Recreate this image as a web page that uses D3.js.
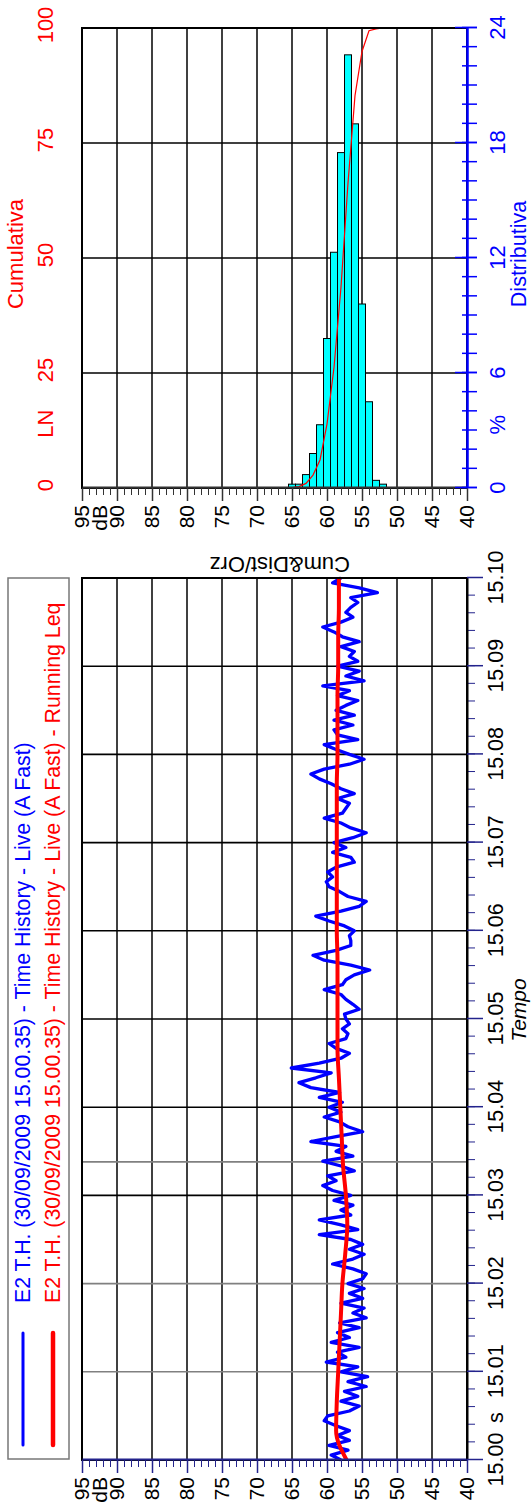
<!DOCTYPE html>
<html>
<head>
<meta charset="utf-8">
<title>E2 T.H. Time History</title>
<script src="https://cdn.jsdelivr.net/npm/d3@7"></script>
<style>
  body { margin: 0; background: #fff; }
  svg { display: block; }
</style>
</head>
<body>
<svg id="chart" width="532" height="1506"></svg>
<script>
// ---- data ----
const dbTicks = [95, 90, 85, 80, 75, 70, 65, 60, 55, 50, 45, 40];
const timeTicks = [15.00, 15.01, 15.02, 15.03, 15.04, 15.05, 15.06, 15.07, 15.08, 15.09, 15.10];
const markerTimes = [15.0338];

// Time History - Live (A Fast), dB, evenly sampled from 15.00 to 15.10
const blueLevels = [
  58.0, 59.4, 57.0, 59.7, 56.8, 58.5, 56.8, 58.7, 60.4, 59.9,
  56.8, 55.4, 58.0, 55.6, 57.5, 54.4, 57.0, 54.2, 58.0, 55.6,
  60.1, 57.3, 58.5, 55.4, 59.4, 56.8, 58.5, 55.4, 58.2, 54.4,
  56.3, 54.7, 58.0, 54.9, 56.8, 54.7, 57.0, 54.9, 54.4, 56.3,
  59.2, 56.3, 54.7, 56.8, 54.9, 56.6, 61.1, 55.6, 58.0, 61.1,
  56.6, 58.0, 56.3, 59.0, 56.6, 59.2, 60.6, 58.7, 59.9, 56.1, 58.0,
  60.6, 56.3, 58.7, 57.3, 62.3, 58.7, 54.9, 57.0, 58.2, 60.4,
  58.0, 59.7, 57.8, 61.1, 58.2, 62.3, 64.0, 61.6, 59.4, 65.1,
  61.1, 58.0, 56.8, 58.7, 59.7, 57.3, 57.0, 57.8, 56.8, 57.3,
  57.5, 55.4, 56.3, 57.3, 58.0, 60.4, 57.8, 57.3, 56.1, 53.9,
  56.6, 60.4, 62.0, 58.7, 56.6, 56.6, 56.8, 56.1, 57.5, 59.7,
  61.6, 58.0, 55.4, 54.4, 57.0, 58.2, 59.7, 60.1, 59.2, 59.9, 58.7, 56.1,
  56.6, 59.2, 57.3, 59.0, 56.3, 54.4, 56.6, 58.0, 60.4, 57.8,
  57.3, 56.8, 58.5, 56.1, 58.0, 59.4, 61.1, 62.3, 60.4, 56.8,
  54.7, 56.8, 58.7, 60.4, 55.6, 58.5, 59.0, 56.3, 59.0, 56.1,
  58.7, 57.3, 55.6, 58.5, 56.8, 60.6, 54.7, 57.3, 55.4, 58.5,
  55.6, 56.8, 56.1, 58.0, 55.4, 57.8, 59.0, 60.6, 58.0, 56.3,
  57.3, 56.6, 55.6, 56.6, 52.8, 55.4, 59.2, 58.0
];

// Running Leq, dB, every 20 s
const runningLeq = [
  57.2, 58.7, 58.6, 58.4, 58.2, 58.0, 57.8, 57.4, 57.1, 57.3,
  57.7, 57.9, 58.1, 58.3, 58.5, 58.5, 58.5, 58.5, 58.6, 58.6,
  58.6, 58.6, 58.6, 58.6, 58.5, 58.5, 58.5, 58.4, 58.4, 58.3, 58.3
];

// distribution (%) and cumulative LN (%) per 1 dB class
const histLevels = [65, 64, 63, 62, 61, 60, 59, 58, 57, 56, 55, 54, 53, 52];
const histPercent = [0.2, 0.2, 0.7, 1.8, 3.3, 7.8, 12.3, 17.5, 22.6, 19.0, 9.6, 4.5, 0.4, 0.2];
const cumPercent = [0.1, 0.3, 1.0, 2.8, 6.1, 13.9, 26.2, 43.7, 66.3, 85.3, 94.9, 99.4, 99.8, 100];

const distTicks = [0, 6, 12, 18, 24];
const cumTicks = [0, 25, 50, 75, 100];

const legendLabels = [
  'E2 T.H. (30/09/2009 15.00.35) - Time History - Live (A Fast)',
  'E2 T.H. (30/09/2009 15.00.35) - Time History - Live (A Fast) - Running Leq'
];
const legendColors = ['#0000ff', '#ff0000'];

// ---- layout (chart is drawn landscape, then turned a quarter) ----
const FONT = 'Arial, "Liberation Sans", Helvetica, sans-serif';
const W = 1506;
const navy = '#23238c';
const plotTop = 82, plotBottom = 467;
const th = { left: 46, right: 928 };
const hist = { left: 1018, right: 1478 };

const svg = d3.select('#chart');
const g = svg.append('g')
  .attr('transform', `translate(0,${W}) rotate(-90)`)
  .attr('font-family', FONT);

const y = d3.scaleLinear().domain([95, 40]).range([plotTop, plotBottom]);
const xTime = d3.scaleLinear().domain([15.00, 15.10]).range([th.left, th.right]);
const xDist = d3.scaleLinear().domain([0, 24]).range([hist.left, hist.right]);
const xCum = d3.scaleLinear().domain([0, 100]).range([hist.left, hist.right]);

// ================= time history =================
const lower = g.append('g');

// legend
lower.append('rect')
  .attr('x', th.left + 1).attr('y', 8)
  .attr('width', th.right - th.left - 1).attr('height', 61)
  .attr('fill', 'none').attr('stroke', '#777').attr('stroke-width', 1.5);
legendLabels.forEach((label, i) => {
  const ly = 23 + i * 30;
  lower.append('line')
    .attr('x1', 61).attr('x2', 173).attr('y1', ly).attr('y2', ly)
    .attr('stroke', legendColors[i]).attr('stroke-width', i ? 4.5 : 3)
    .attr('stroke-linecap', 'round');
  lower.append('text')
    .attr('x', 203).attr('y', ly)
    .attr('dominant-baseline', 'central')
    .attr('font-size', 21.3)
    .attr('fill', legendColors[i])
    .text(label);
});

// grid
lower.selectAll('line.hgrid')
  .data(dbTicks.slice(1, -1))
  .join('line').attr('class', 'hgrid')
  .attr('x1', th.left).attr('x2', th.right)
  .attr('y1', d => y(d)).attr('y2', d => y(d))
  .attr('stroke', '#000').attr('stroke-width', 1.5);
lower.selectAll('line.vgrid')
  .data(timeTicks.slice(1, -1).concat(markerTimes))
  .join('line').attr('class', 'vgrid')
  .attr('x1', d => xTime(d)).attr('x2', d => xTime(d))
  .attr('y1', plotTop).attr('y2', plotBottom)
  .attr('stroke', d => (d < 15.025 || markerTimes.includes(d)) ? '#808080' : '#000')
  .attr('stroke-width', 1.6);

// series
const blueStep = 0.1 / (blueLevels.length - 1);
const leqStep = 0.1 / (runningLeq.length - 1);
lower.append('path')
  .datum(blueLevels)
  .attr('fill', 'none').attr('stroke', '#0000ff').attr('stroke-width', 3.3)
  .attr('stroke-linejoin', 'round')
  .attr('d', d3.line().x((d, i) => xTime(15 + i * blueStep)).y(d => y(d)));
lower.append('path')
  .datum(runningLeq)
  .attr('fill', 'none').attr('stroke', '#ff0000').attr('stroke-width', 4)
  .attr('stroke-linejoin', 'round')
  .attr('d', d3.line().x((d, i) => xTime(15 + i * leqStep)).y(d => y(d)).curve(d3.curveMonotoneX));

// frame
lower.append('rect')
  .attr('x', th.left).attr('y', plotTop)
  .attr('width', th.right - th.left).attr('height', plotBottom - plotTop)
  .attr('fill', 'none').attr('stroke', '#000').attr('stroke-width', 2);

// dB axis
function dbAxis(parent, x0, color) {
  const minor = parent.append('g')
    .attr('transform', `translate(${x0},0)`)
    .call(d3.axisLeft(y).tickValues(d3.range(40, 96)).tickSize(7).tickSizeOuter(0).tickFormat(''));
  minor.select('.domain').remove();
  minor.attr('color', color);

  const ax = parent.append('g')
    .attr('transform', `translate(${x0},0)`)
    .call(d3.axisLeft(y).tickValues(dbTicks).tickSize(13).tickSizeOuter(0).tickPadding(4));
  ax.attr('color', color).attr('font-family', FONT).attr('font-size', 21);
  ax.select('.domain').attr('stroke-width', 2);
  ax.selectAll('.tick line').attr('stroke-width', 1.5);
  ax.selectAll('text').attr('fill', '#000');
  parent.append('text')
    .attr('x', x0 - 17).attr('y', (y(95) + y(90)) / 2)
    .attr('text-anchor', 'end').attr('dominant-baseline', 'central')
    .attr('font-size', 21).text('dB');
}
dbAxis(lower, th.left, navy);

// time axis
const tMinor = lower.append('g')
  .attr('transform', `translate(0,${plotBottom})`)
  .call(d3.axisBottom(xTime).tickValues(d3.range(0, 51).map(i => 15 + i * 0.002))
    .tickSize(8).tickSizeOuter(0).tickFormat(''));
tMinor.select('.domain').remove();
tMinor.attr('color', navy);
const tAx = lower.append('g')
  .attr('transform', `translate(0,${plotBottom})`)
  .call(d3.axisBottom(xTime).tickValues(timeTicks).tickSize(16).tickSizeOuter(0)
    .tickPadding(5).tickFormat(d3.format('.2f')));
tAx.attr('color', navy).attr('font-family', FONT).attr('font-size', 21.5);
tAx.select('.domain').attr('stroke', '#000').attr('stroke-width', 2);
tAx.selectAll('.tick line').attr('stroke-width', 1.5);
tAx.selectAll('text').attr('fill', '#000');

lower.append('text')
  .attr('x', xTime(15.0048)).attr('y', plotBottom + 21).attr('dy', '0.71em')
  .attr('text-anchor', 'middle').attr('font-size', 21.5).text('s');
lower.append('text')
  .attr('x', (th.left + th.right) / 2 + 9).attr('y', 526)
  .attr('text-anchor', 'middle').attr('font-size', 21).attr('font-style', 'italic')
  .text('Tempo');

lower.append('text')
  .attr('transform', `translate(${th.right + 21},350) rotate(-90)`)
  .attr('font-size', 22)
  .text('Cum&Dist/Orz');

// ================= distribution =================
const upper = g.append('g');

upper.selectAll('line.hgrid')
  .data(dbTicks.slice(1, -1))
  .join('line').attr('class', 'hgrid')
  .attr('x1', hist.left).attr('x2', hist.right)
  .attr('y1', d => y(d)).attr('y2', d => y(d))
  .attr('stroke', '#000').attr('stroke-width', 1.5);
upper.selectAll('line.vgrid')
  .data(distTicks.slice(1, -1))
  .join('line').attr('class', 'vgrid')
  .attr('x1', d => xDist(d)).attr('x2', d => xDist(d))
  .attr('y1', plotTop).attr('y2', plotBottom)
  .attr('stroke', '#000').attr('stroke-width', 1.5);

upper.selectAll('rect.bar')
  .data(histLevels)
  .join('rect').attr('class', 'bar')
  .attr('x', xDist(0))
  .attr('y', d => y(d + 0.5))
  .attr('width', (d, i) => xDist(histPercent[i]) - xDist(0))
  .attr('height', d => y(d - 0.5) - y(d + 0.5))
  .attr('fill', '#00ffff').attr('stroke', '#000').attr('stroke-width', 1);

upper.append('path')
  .datum(cumPercent)
  .attr('fill', 'none').attr('stroke', '#ff0000').attr('stroke-width', 1.2)
  .attr('d', d3.line().x(d => xCum(d)).y((d, i) => y(histLevels[i])));

upper.append('rect')
  .attr('x', hist.left).attr('y', plotTop)
  .attr('width', hist.right - hist.left).attr('height', plotBottom - plotTop)
  .attr('fill', 'none').attr('stroke', '#000').attr('stroke-width', 2);

dbAxis(upper, hist.left, '#333');

// distributiva axis (blue, ticks cross the line)
const dMinor = upper.append('g')
  .attr('transform', `translate(0,${plotBottom})`)
  .call(d3.axisBottom(xDist).tickValues(d3.range(0, 25)).tickSize(10).tickSizeOuter(0).tickFormat(''));
dMinor.select('.domain').remove();
dMinor.attr('color', '#0000ff');
dMinor.selectAll('.tick line').attr('y1', -5).attr('stroke-width', 1.5);
const dAx = upper.append('g')
  .attr('transform', `translate(0,${plotBottom})`)
  .call(d3.axisBottom(xDist).tickValues(distTicks).tickSize(10).tickSizeOuter(0).tickPadding(12));
dAx.attr('color', '#0000ff').attr('font-family', FONT).attr('font-size', 22);
dAx.select('.domain').attr('stroke-width', 2.5);
dAx.selectAll('.tick line').attr('y1', -12).attr('stroke-width', 1.5);
upper.append('text')
  .attr('x', xDist(3.3)).attr('y', plotBottom + 22).attr('dy', '0.71em')
  .attr('text-anchor', 'middle').attr('font-size', 22).attr('fill', '#0000ff').text('%');
upper.append('text')
  .attr('x', (hist.left + hist.right) / 2 + 4).attr('y', 526)
  .attr('text-anchor', 'middle').attr('font-size', 21.5).attr('fill', '#0000ff')
  .text('Distributiva');

// cumulativa labels (red, no ticks)
upper.selectAll('text.cum')
  .data(cumTicks)
  .join('text').attr('class', 'cum')
  .attr('x', d => xCum(d) + 3).attr('y', 53)
  .attr('text-anchor', 'middle').attr('font-size', 22).attr('fill', '#ff0000')
  .text(d => d);
upper.append('text')
  .attr('x', xCum(14)).attr('y', 53)
  .attr('text-anchor', 'middle').attr('font-size', 22).attr('fill', '#ff0000').text('LN');
upper.append('text')
  .attr('x', (hist.left + hist.right) / 2 + 4).attr('y', 23)
  .attr('text-anchor', 'middle').attr('font-size', 22).attr('fill', '#ff0000')
  .text('Cumulativa');
</script>
</body>
</html>
